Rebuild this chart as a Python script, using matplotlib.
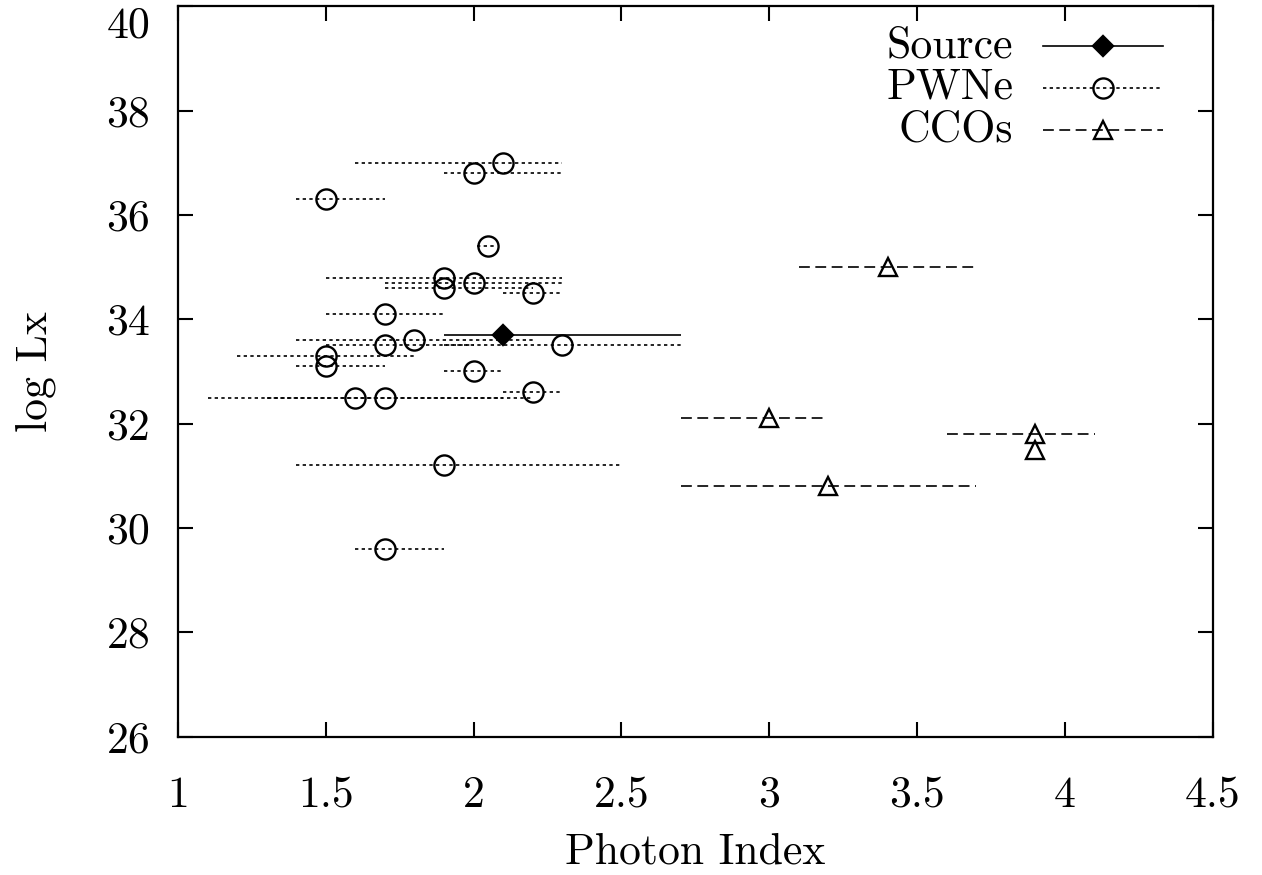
import numpy as np
import matplotlib
matplotlib.use("Agg")
import matplotlib.pyplot as plt
from matplotlib.ticker import FuncFormatter

plt.rcParams['font.family'] = 'serif'
plt.rcParams['font.serif'] = ['cmr10', 'DejaVu Serif']
plt.rcParams['axes.formatter.use_mathtext'] = True
plt.rcParams['mathtext.fontset'] = 'cm'

# source
src_x = [2.1]
src_y = [33.7]
src_lo = [1.9]
src_hi = [2.7]

# PWNe: photon index, log Lx, index range
pwn_x = [2.1, 2.0, 1.5, 2.05, 1.9, 1.9, 2.0, 2.2, 1.7, 1.8, 1.7, 2.3,
         1.5, 1.5, 2.0, 2.2, 1.6, 1.7, 1.9, 1.7]
pwn_y = [37.0, 36.8, 36.3, 35.4, 34.8, 34.6, 34.7, 34.5, 34.1, 33.6, 33.5, 33.5,
         33.3, 33.1, 33.0, 32.6, 32.5, 32.5, 31.2, 29.6]
pwn_lo = [1.6, 1.9, 1.4, 2.01, 1.5, 1.7, 1.7, 2.1, 1.5, 1.4, 1.5, 1.9,
          1.2, 1.4, 1.9, 2.1, 1.1, 1.3, 1.4, 1.6]
pwn_hi = [2.3, 2.3, 1.7, 2.08, 2.3, 2.2, 2.3, 2.3, 1.9, 2.2, 2.0, 2.7,
          1.8, 1.7, 2.1, 2.3, 2.1, 2.2, 2.5, 1.9]

# CCOs
cco_x = [3.4, 3.0, 3.9, 3.9, 3.2]
cco_y = [35.0, 32.1, 31.8, 31.5, 30.8]
cco_lo = [3.1, 2.7, 3.6, 3.9, 2.7]
cco_hi = [3.7, 3.2, 4.1, 3.9, 3.7]

DOT = (0, (2, 2))
DASH = (0, (6.5, 3.3))
FS = 31.5

fig = plt.figure(figsize=(12.62, 8.75), dpi=100)
ax = fig.add_axes([0.141, 0.158, 0.820, 0.835])


def draw(x, y, lo, hi, ls, marker, ms, mfc):
    x = np.array(x)
    xerr = [x - np.array(lo), np.array(hi) - x]
    eb = ax.errorbar(x, y, xerr=xerr, fmt='none', ecolor='k',
                     elinewidth=1.2, capsize=0)
    eb[2][0].set_linestyle(ls)
    ax.plot(x, y, ls='none', marker=marker, ms=ms, mfc=mfc, mec='k',
            mew=1.7, zorder=3)


draw(pwn_x, pwn_y, pwn_lo, pwn_hi, DOT, 'o', 14.5, 'none')
draw(cco_x, cco_y, cco_lo, cco_hi, DASH, '^', 12.5, 'none')
draw(src_x, src_y, src_lo, src_hi, '-', 'D', 10, 'k')

ax.set_xlim(1, 4.5)
ax.set_ylim(26, 40)
ax.set_xticks(np.arange(1, 4.51, 0.5))
ax.set_yticks(np.arange(26, 40.1, 2))
ax.xaxis.set_major_formatter(FuncFormatter(lambda v, p: '%g' % v))
ax.yaxis.set_major_formatter(FuncFormatter(lambda v, p: '%g' % v))
ax.tick_params(direction='in', length=11, width=1.5, top=True, right=True,
               labelsize=FS)
ax.tick_params(axis='x', pad=28)
ax.tick_params(axis='y', pad=20)
for s in ax.spines.values():
    s.set_linewidth(1.6)

# keep the top label inside the figure, as gnuplot does
fig.canvas.draw()
ax.get_yticklabels()[-1].set_va('top')

ax.set_xlabel('Photon Index', fontsize=FS, labelpad=12)
ax.set_ylabel('log Lx', fontsize=FS, labelpad=36)

# gnuplot-style key
key = [('Source', '-', 'D', 10, 'k', 0.945),
       ('PWNe', DOT, 'o', 14.5, 'none', 0.888),
       ('CCOs', DASH, '^', 12.5, 'none', 0.830)]
for lab, ls, mk, ms, fc, ky in key:
    ax.plot([0.836, 0.952], [ky, ky], transform=ax.transAxes, color='k',
            lw=1.2, ls=ls, clip_on=False)
    ax.plot([0.894], [ky], transform=ax.transAxes, marker=mk, ms=ms,
            mfc=fc, mec='k', mew=1.7, ls='none', clip_on=False)
    ax.text(0.807, ky, lab, transform=ax.transAxes, ha='right',
            va='center', fontsize=FS)

fig.savefig('out.png', dpi=100)
